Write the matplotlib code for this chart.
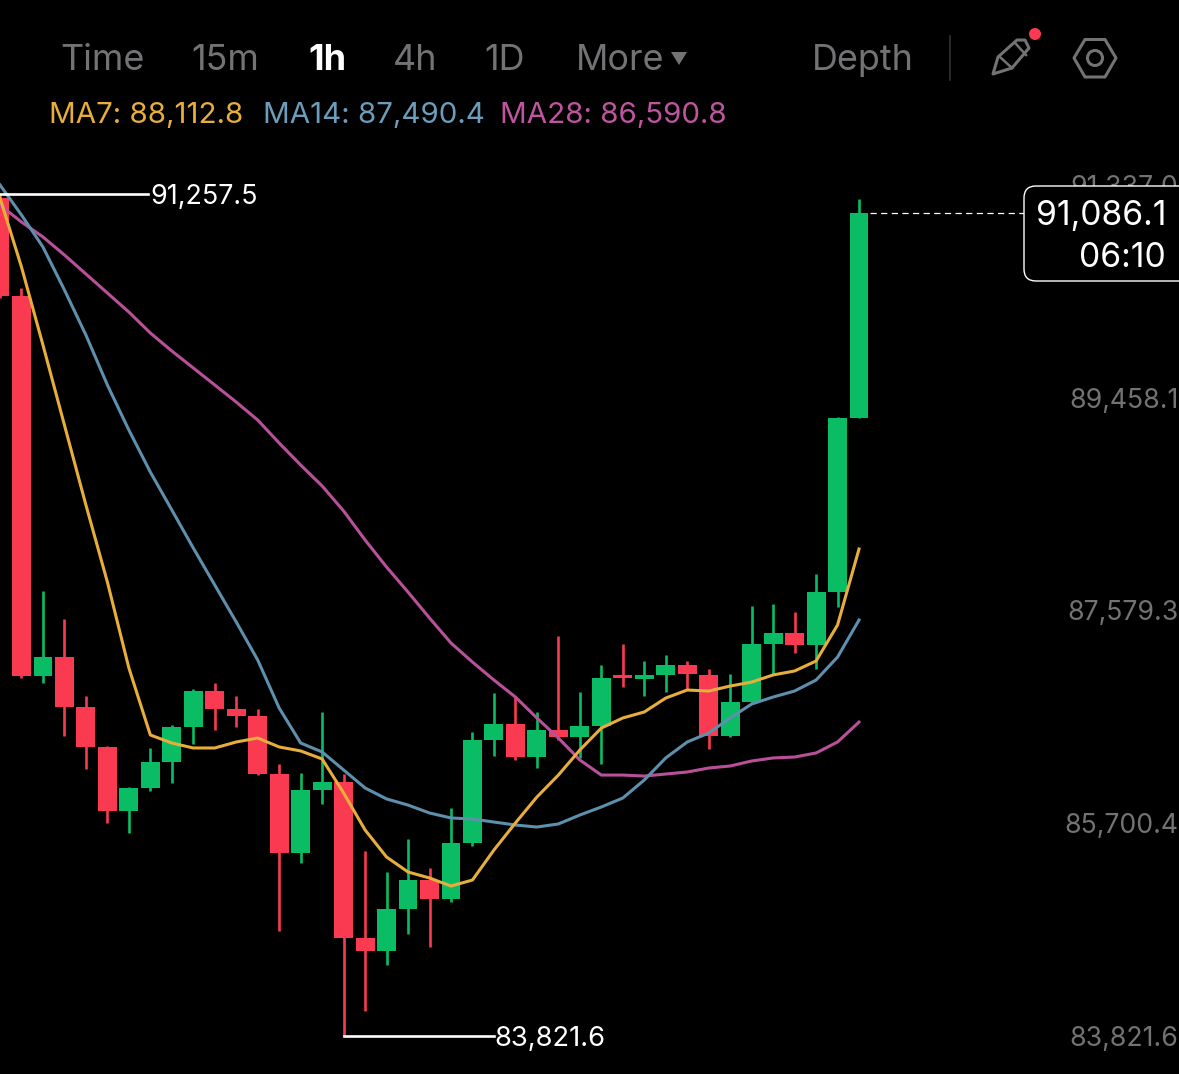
import matplotlib
matplotlib.use('Agg')
import matplotlib.pyplot as plt
import numpy as np
from matplotlib.patches import FancyBboxPatch, Polygon, Circle

plt.rcParams['font.family'] = ['Inter', 'DejaVu Sans']

# candles, oldest first
opens = [91222, 90357, 87001, 87168, 86727, 86374, 85809, 86012, 86241, 86550, 86868,
         86709, 86647, 86135, 85438, 85994, 86065, 84687, 84572, 84943, 85199, 85031,
         85526, 86436, 86577, 86285, 86524, 86462, 86559, 87010, 86974, 87010, 87098,
         87010, 86471, 86771, 87283, 87381, 87274, 87742, 89279]
closes = [90357, 87001, 87168, 86727, 86374, 85809, 86012, 86241, 86550, 86868, 86709,
          86647, 86135, 85438, 85994, 86065, 84687, 84572, 84943, 85199, 85031, 85526,
          86436, 86577, 86285, 86524, 86462, 86559, 86983, 86983, 87010, 87098, 87019,
          86471, 86771, 87283, 87381, 87274, 87742, 89279, 91086.1]
highs = [91257.5, 90427, 87751, 87504, 86824, 86383, 86021, 86365, 86568, 86886, 86939,
         86824, 86709, 86224, 86144, 86683, 86135, 85455, 85270, 85561, 85305, 85835,
         86506, 86851, 86824, 86683, 87354, 86859, 87098, 87283, 87133, 87186, 87133,
         87063, 87019, 87619, 87637, 87567, 87902, 89288, 91213]
lows = [90339, 86983, 86939, 86471, 86179, 85703, 85614, 85985, 86056, 86400, 86524,
        86550, 86126, 84749, 85349, 85870, 83821.6, 84042, 84449, 84722, 84607, 85005,
        85499, 86295, 86259, 86188, 86436, 86277, 86224, 86903, 86824, 86859, 86877,
        86356, 86462, 86762, 87010, 87204, 87063, 87610, 89279]

ma7 = [91222, 90613, 89924, 89217, 88511, 87831, 87072, 86480, 86409, 86365, 86365,
       86418, 86453, 86374, 86339, 86268, 85968, 85641, 85402, 85270, 85217, 85146,
       85199, 85464, 85703, 85932, 86126, 86347, 86541, 86630, 86683, 86806, 86877,
       86868, 86912, 86947, 87010, 87045, 87133, 87451, 88122]
ma14 = [91337, 91072, 90789, 90410, 90012, 89571, 89173, 88802, 88467, 88131, 87804,
        87478, 87142, 86718, 86409, 86330, 86171, 86012, 85915, 85861, 85791, 85747,
        85738, 85711, 85685, 85667, 85694, 85773, 85844, 85923, 86082, 86277, 86418,
        86497, 86630, 86753, 86815, 86868, 86965, 87168, 87495]
ma28 = [91160, 91010, 90878, 90719, 90551, 90383, 90215, 90030, 89871, 89721, 89571,
        89420, 89261, 89058, 88864, 88679, 88458, 88202, 87963, 87742, 87513, 87292,
        87124, 86965, 86815, 86630, 86453, 86259, 86126, 86126, 86117, 86135, 86153,
        86188, 86206, 86250, 86277, 86285, 86321, 86418, 86594]

price_ticks = [91337.0, 89458.1, 87579.3, 85700.4, 83821.6]
tabs = ['Time', '15m', '1h', '4h', '1D', 'More']
ma_labels = ['MA7: 88,112.8', 'MA14: 87,490.4', 'MA28: 86,590.8']
last_price = 91086.1
countdown = '06:10'

RED = '#F93A50'
GREEN = '#0ABD65'
YELLOW = '#E8AE3C'
BLUE = '#5E90AE'
PINK = '#B8509A'
GREY = '#737376'

fig = plt.figure(figsize=(11.79, 10.74), dpi=100, facecolor='black')
ax = fig.add_axes([0, 0, 1, 1])
ax.set_facecolor('black')
ax.set_xlim(0, 54.9)
ax.set_ylim(83486, 92970.5)
ax.axis('off')

x = np.arange(len(opens))
colors = [GREEN if c >= o else RED for o, c in zip(opens, closes)]
bottoms = np.minimum(opens, closes)
heights = np.abs(np.array(closes) - np.array(opens))
ax.vlines(x, lows, highs, colors=colors, lw=1.9, zorder=2)
ax.bar(x, heights, bottom=bottoms, width=0.88, color=colors, zorder=3)

ax.plot(x, ma28, color=PINK, lw=2.2, zorder=4)
ax.plot(x, ma14, color=BLUE, lw=2.2, zorder=5)
ax.plot(x, ma7, color=YELLOW, lw=2.2, zorder=6)

# high and low markers
ax.plot([0, 6.9], [max(highs), max(highs)], color='white', lw=1.9, zorder=7)
ax.plot([16, 23], [min(lows), min(lows)], color='white', lw=1.9, zorder=7)
ax.text(7.0, max(highs), f'{max(highs):,.1f}', color='white', fontsize=19.4,
        va='center_baseline', zorder=7)
ax.text(23.0, min(lows), f'{min(lows):,.1f}', color='white', fontsize=19.7,
        va='center_baseline', zorder=7)

# current price
ax.plot([len(opens) - 0.5, 47.7], [last_price, last_price], color='white', lw=0.9,
        dashes=(5, 3.5), zorder=7)

tr = ax.get_yaxis_transform()
for p in price_ticks:
    ax.text(0.9995, p, f'{p:,.1f}', transform=tr, color=GREY, fontsize=19.2,
            ha='right', va='center_baseline', zorder=1)

# app chrome, drawn in pixels
ui = fig.add_axes([0, 0, 1, 1], facecolor='none')
ui.set_xlim(0, 1179)
ui.set_ylim(1074, 0)
ui.axis('off')

box = FancyBboxPatch((1024, 186), 180, 95, boxstyle='round,pad=0,rounding_size=12',
                     fc='black', ec='white', lw=1.0)
ui.add_patch(box)
ui.text(1166, 225, f'{last_price:,.1f}', color='white', fontsize=24.2, ha='right', va='baseline')
ui.text(1166, 267, countdown, color='white', fontsize=24.2, ha='right', va='baseline')

tab_x = [60, 191, 308, 393, 484, 576]
for t, tx in zip(tabs, tab_x):
    if t == '1h':
        ui.text(tx, 70, t, color='white', fontsize=26, fontweight='bold', va='baseline')
    else:
        ui.text(tx, 70, t, color=GREY, fontsize=25.9, va='baseline')
ui.add_patch(Polygon([(671, 52), (687, 52), (679, 65)], fc=GREY, ec='none'))
ui.text(812, 70, 'Depth', color=GREY, fontsize=25.9, va='baseline')
ui.plot([950, 950], [36, 80], color='#333335', lw=1.2)

ma_x = [49, 263, 500]
for lab, mx, col in zip(ma_labels, ma_x, ['#E8AE3C', '#6C9DBB', '#C0559F']):
    ui.text(mx, 123, lab, color=col, fontsize=21.3, va='baseline')

# pencil
ui.add_patch(Polygon([(993, 74), (998, 57), (1017, 40), (1025, 40), (1029, 48), (1012, 68)],
                     fc='none', ec=GREY, lw=2.2, joinstyle='round'))
ui.plot([1000, 1012], [57, 68], color=GREY, lw=1.8)
ui.plot([1016, 1026], [44, 55], color=GREY, lw=1.8)
ui.add_patch(Circle((1035, 34), 6, fc=RED, ec='none'))

# settings
ui.add_patch(Polygon([(1074, 58), (1085, 39.5), (1105, 39.5), (1116, 58), (1105, 77), (1085, 77)],
                     fc='none', ec=GREY, lw=2.2, joinstyle='round'))
ui.add_patch(Circle((1095, 58), 7.5, fc='none', ec=GREY, lw=2.2))

fig.savefig('out.png', dpi=100, facecolor='black')
